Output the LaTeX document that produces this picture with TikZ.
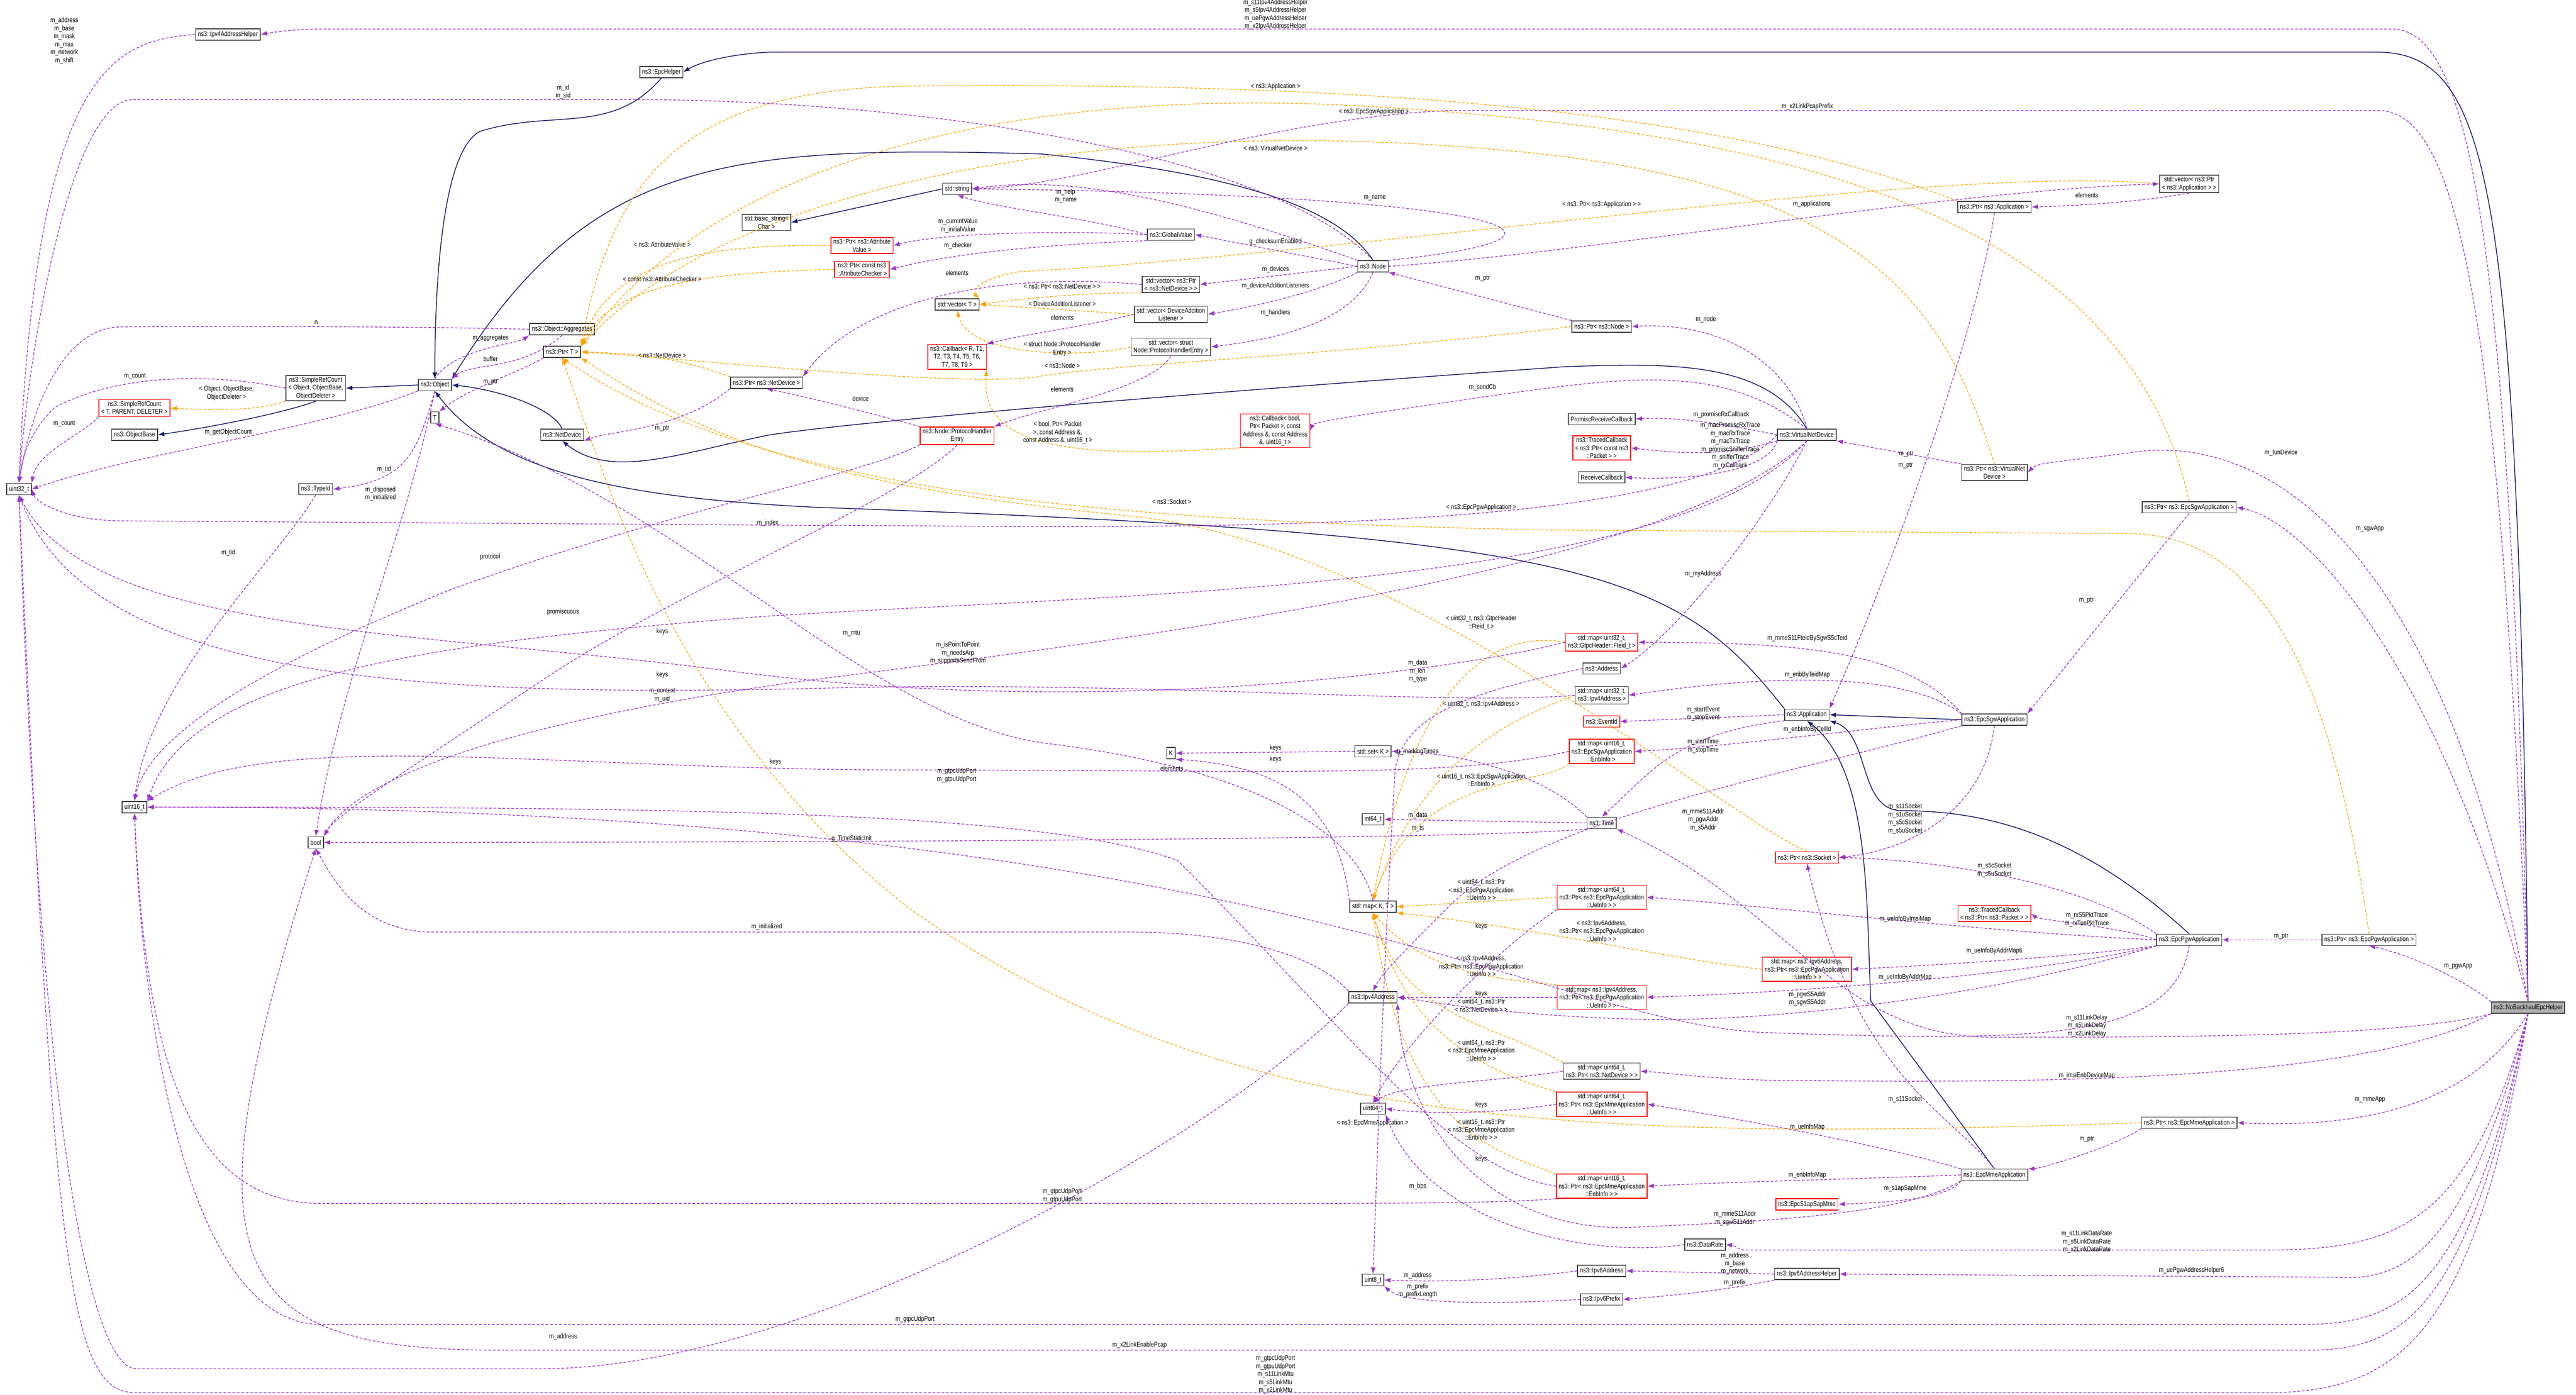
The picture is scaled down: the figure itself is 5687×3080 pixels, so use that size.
\documentclass[tikz,border=0pt]{standalone}
\usepackage{fontspec}
\setmainfont{Liberation Sans}[FakeStretch=0.82]
\usetikzlibrary{arrows.meta}
\definecolor{mem}{HTML}{9A32CD}
\definecolor{inh}{HTML}{191970}
\definecolor{tpl}{HTML}{FFA500}
\begin{document}
\begin{tikzpicture}[x=0.01cm,y=-0.01cm,
 every node/.style={font=\fontsize{4.3}{5}\selectfont},
 cls/.style={draw=black!75,fill=white,line width=0.5pt,align=center,inner xsep=1.5pt,inner ysep=1pt,minimum height=0.25cm},
 rcls/.style={cls,draw=red},
 lbl/.style={align=center,inner sep=0pt},
 mem/.style={draw=mem,dash pattern=on 1.7pt off 1.1pt,line width=0.45pt,-{Latex[length=4pt,width=3pt]}},
 inh/.style={draw=inh,line width=0.5pt,-{Latex[length=4pt,width=3pt]}},
 tpl/.style={draw=tpl,dash pattern=on 1.7pt off 1.1pt,line width=0.45pt,-{Latex[length=4pt,width=3pt]}}]
\useasboundingbox (0,0) rectangle (5687,3080);
% nodes
\node[cls,fill=black!30] (helper) at (5581,2225) {ns3::NoBackhaulEpcHelper};
\node[cls] (ipv4h) at (503,76) {ns3::Ipv4AddressHelper};
\node[cls] (epch) at (1460,159) {ns3::EpcHelper};
\node[cls] (u32) at (42,1080) {uint32\_t};
\node[cls] (obase) at (297,960) {ns3::ObjectBase};
\node[rcls] (srcT) at (297,901) {ns3::SimpleRefCount\\< T, PARENT, DELETER >};
\node[cls] (srcO) at (697,857) {ns3::SimpleRefCount\\< Object, ObjectBase,\\ ObjectDeleter >};
\node[cls] (obj) at (960,850) {ns3::Object};
\node[cls] (aggr) at (1241,727) {ns3::Object::Aggregates};
\node[cls] (ptrT) at (1241,777) {ns3::Ptr< T >};
\node[cls] (T) at (960,922) {T};
\node[cls] (netdev) at (1241,960) {ns3::NetDevice};
\node[cls] (typeid) at (697,1080) {ns3::TypeId};
\node[cls] (bstr) at (1692,491) {std::basic\_string<\\ Char >};
\node[cls] (ptrnd) at (1692,845) {ns3::Ptr< ns3::NetDevice >};
\node[rcls] (ptrav) at (1903,542) {ns3::Ptr< ns3::Attribute\\Value >};
\node[rcls] (ptrac) at (1903,595) {ns3::Ptr< const ns3\\::AttributeChecker >};
\node[cls] (str) at (2113,417) {std::string};
\node[cls] (gv) at (2585,518) {ns3::GlobalValue};
\node[cls] (node) at (3031,588) {ns3::Node};
\node[cls] (vpnd) at (2585,628) {std::vector< ns3::Ptr\\< ns3::NetDevice > >};
\node[cls] (vT) at (2113,672) {std::vector< T >};
\node[cls] (vdal) at (2585,694) {std::vector< DeviceAddition\\Listener >};
\node[rcls] (cbR) at (2113,788) {ns3::Callback< R, T1,\\ T2, T3, T4, T5, T6,\\ T7, T8, T9 >};
\node[cls] (vphe) at (2585,766) {std::vector< struct\\ Node::ProtocolHandlerEntry >};
\node[cls] (ptrnode) at (3536,721) {ns3::Ptr< ns3::Node >};
\node[rcls] (phe) at (2113,962) {ns3::Node::ProtocolHandler\\Entry};
\node[rcls] (cbB) at (2815,951) {ns3::Callback< bool,\\ Ptr< Packet >, const\\ Address \&, const Address\\ \&, uint16\_t >};
\node[cls] (prc) at (3536,925) {PromiscReceiveCallback};
\node[rcls] (tcb) at (3536,989) {ns3::TracedCallback\\< ns3::Ptr< const ns3\\::Packet > >};
\node[cls] (rcb) at (3536,1054) {ReceiveCallback};
\node[cls] (vpapp) at (4833,406) {std::vector< ns3::Ptr\\< ns3::Application > >};
\node[cls] (ptrapp) at (4403,457) {ns3::Ptr< ns3::Application >};
\node[cls] (vnd) at (3989,960) {ns3::VirtualNetDevice};
\node[cls] (ptrvnd) at (4403,1043) {ns3::Ptr< ns3::VirtualNet\\Device >};
\node[cls] (u16) at (297,1782) {uint16\_t};
\node[cls] (bool) at (697,1860) {bool};
\node[rcls] (mFteid) at (3536,1418) {std::map< uint32\_t,\\ ns3::GtpcHeader::Fteid\_t >};
\node[cls] (addr) at (3536,1476) {ns3::Address};
\node[cls] (mIpv4) at (3536,1535) {std::map< uint32\_t,\\ ns3::Ipv4Address >};
\node[rcls] (evid) at (3536,1593) {ns3::EventId};
\node[rcls] (mEnb) at (3536,1659) {std::map< uint16\_t,\\ ns3::EpcSgwApplication\\::EnbInfo >};
\node[cls] (setK) at (3031,1659) {std::set< K >};
\node[cls] (K) at (2585,1663) {K};
\node[cls] (i64) at (3031,1809) {int64\_t};
\node[cls] (time) at (3536,1817) {ns3::Time};
\node[cls] (mapKT) at (3031,2002) {std::map< K, T >};
\node[rcls] (mPgw64) at (3536,1981) {std::map< uint64\_t,\\ ns3::Ptr< ns3::EpcPgwApplication\\::UeInfo > >};
\node[cls] (ptrsgw) at (4833,1120) {ns3::Ptr< ns3::EpcSgwApplication >};
\node[cls] (app) at (3989,1578) {ns3::Application};
\node[cls] (sgw) at (4403,1589) {ns3::EpcSgwApplication};
\node[rcls] (ptrsock) at (3989,1893) {ns3::Ptr< ns3::Socket >};
\node[rcls] (tcbp) at (4403,2017) {ns3::TracedCallback\\< ns3::Ptr< ns3::Packet > >};
\node[cls] (pgw) at (4833,2075) {ns3::EpcPgwApplication};
\node[cls] (ptrpgw) at (5230,2075) {ns3::Ptr< ns3::EpcPgwApplication >};
\node[cls] (ipv4) at (3031,2202) {ns3::Ipv4Address};
\node[rcls] (mPgw4) at (3536,2202) {std::map< ns3::Ipv4Address,\\ ns3::Ptr< ns3::EpcPgwApplication\\::UeInfo > >};
\node[cls] (mNd) at (3536,2365) {std::map< uint64\_t,\\ ns3::Ptr< ns3::NetDevice > >};
\node[cls] (u64) at (3031,2448) {uint64\_t};
\node[rcls] (mMmeUe) at (3536,2438) {std::map< uint64\_t,\\ ns3::Ptr< ns3::EpcMmeApplication\\::UeInfo > >};
\node[rcls] (mMmeEnb) at (3536,2619) {std::map< uint16\_t,\\ ns3::Ptr< ns3::EpcMmeApplication\\::EnbInfo > >};
\node[cls] (dr) at (3764,2748) {ns3::DataRate};
\node[cls] (ipv6) at (3536,2806) {ns3::Ipv6Address};
\node[cls] (u8) at (3031,2826) {uint8\_t};
\node[cls] (ipv6p) at (3536,2869) {ns3::Ipv6Prefix};
\node[rcls] (mPgw6) at (3989,2140) {std::map< ns3::Ipv6Address,\\ ns3::Ptr< ns3::EpcPgwApplication\\::UeInfo > >};
\node[cls] (ptrmme) at (4833,2479) {ns3::Ptr< ns3::EpcMmeApplication >};
\node[cls] (mme) at (4403,2594) {ns3::EpcMmeApplication};
\node[rcls] (s1ap) at (3989,2659) {ns3::EpcS1apSapMme};
\node[cls] (ipv6h) at (3989,2813) {ns3::Ipv6AddressHelper};
% inheritance
\draw[inh] (helper.north) .. controls (5560,400) and (5500,115) .. (5245,115) -- (1700,115) .. controls (1600,120) and (1540,140) .. (epch.east);
\draw[inh] (epch.south) .. controls (1350,300) and (1220,240) .. (1060,290) .. controls (980,330) and (960,600) .. (obj.north);
\draw[inh] (node.north) .. controls (2950,450) and (2700,380) .. (2300,340) .. controls (1600,320) and (1300,350) .. (obj.north east);
\draw[inh] (str.west) -- (bstr.east);
\draw[inh] (obj.west) -- (srcO.east);
\draw[inh] (srcO.south) .. controls (600,920) and (420,950) .. (obase.east);
\draw[inh] (netdev.north) .. controls (1220,900) and (1100,860) .. (obj.east);
\draw[inh] (vnd.north) .. controls (3900,800) and (3700,800) .. (3450,810) .. controls (2600,870) and (1900,930) .. (1700,960) .. controls (1500,1000) and (1350,1060) .. (netdev.south);
\draw[inh] (app.north west) .. controls (3700,1260) and (3500,1180) .. (1800,1120) .. controls (1400,1100) and (1100,1050) .. (obj.south);
\draw[inh] (sgw.west) -- (app.east);
\draw[inh] (pgw.north) .. controls (4600,1850) and (4400,1790) .. (4200,1790) .. controls (4100,1790) and (4130,1620) .. (app.south east);
\draw[inh] (mme.north) -- (4130,2210) .. controls (4120,2000) and (4130,1700) .. (app.south);
% template instantiations
\draw[tpl] (srcO.south west) .. controls (560,910) and (450,905) .. (srcT.east);
\node[lbl] (t0) at (500,868) {< Object, ObjectBase,\\ ObjectDeleter >};
\draw[tpl] (ptrav.west) .. controls (1600,540) and (1350,560) .. (ptrT.north east);
\node[lbl] (t1) at (1462,540) {< ns3::AttributeValue >};
\draw[tpl] (ptrac.west) .. controls (1600,600) and (1350,620) .. (ptrT.north east);
\node[lbl] (t2) at (1462,616) {< const ns3::AttributeChecker >};
\draw[tpl] (ptrnd.north west) .. controls (1500,790) and (1400,780) .. (ptrT.east);
\node[lbl] (t3) at (1462,784) {< ns3::NetDevice >};
\draw[tpl] (ptrnode.west) .. controls (2900,790) and (2500,800) .. (2300,830) .. controls (2150,860) and (1500,790) .. (ptrT.east);
\node[lbl] (t4) at (2345,807) {< ns3::Node >};
\draw[tpl] (ptrapp.north west) .. controls (3800,240) and (3000,180) .. (2000,190) .. controls (1500,200) and (1350,400) .. (ptrT.north east);
\node[lbl] (t5) at (2816,191) {< ns3::Application >};
\draw[tpl] (ptrsgw.north) .. controls (4700,500) and (4000,300) .. (3100,240) .. controls (2300,180) and (1600,330) .. (ptrT.north east);
\node[lbl] (t6) at (3033,247) {< ns3::EpcSgwApplication >};
\draw[tpl] (ptrvnd.north) .. controls (4300,700) and (4150,400) .. (3300,330) .. controls (2400,250) and (1600,420) .. (ptrT.north east);
\node[lbl] (t7) at (2816,327) {< ns3::VirtualNetDevice >};
\draw[tpl] (ptrsock.north) .. controls (3800,1800) and (3100,1200) .. (2500,1140) .. controls (1900,1080) and (1600,1000) .. (ptrT.south east);
\node[lbl] (t8) at (2587,1108) {< ns3::Socket >};
\draw[tpl] (ptrpgw.north) .. controls (5150,1500) and (5000,1180) .. (4700,1178) -- (3400,1170) .. controls (2500,1150) and (1700,1100) .. (ptrT.south);
\node[lbl] (t9) at (3270,1120) {< ns3::EpcPgwApplication >};
\draw[tpl] (ptrmme.west) .. controls (3500,2520) and (2700,2500) .. (2000,2000) .. controls (1500,1600) and (1350,1100) .. (ptrT.south);
\node[lbl] (t10) at (3030,2480) {< ns3::EpcMmeApplication >};
\draw[tpl] (vpnd.south west) .. controls (2400,645) and (2250,660) .. (vT.east);
\node[lbl] (t11) at (2345,632) {< ns3::Ptr< ns3::NetDevice > >};
\draw[tpl] (vdal.west) -- (vT.east);
\node[lbl] (t12) at (2345,671) {< DeviceAdditionListener >};
\draw[tpl] (vphe.west) .. controls (2400,790) and (2140,790) .. (vT.south);
\node[lbl] (t13) at (2345,770) {< struct Node::ProtocolHandler\\Entry >};
\draw[tpl] (vpapp.west) .. controls (4300,360) and (3000,560) .. (2250,600) .. controls (2180,610) and (2140,640) .. (vT.north east);
\node[lbl] (t14) at (3536,452) {< ns3::Ptr< ns3::Application > >};
\draw[tpl] (cbB.south west) .. controls (2400,1010) and (2160,1000) .. (cbR.south east);
\node[lbl] (t15) at (2335,955) {< bool, Ptr< Packet\\ >, const Address \&,\\ const Address \&, uint16\_t >};
\draw[tpl] (mFteid.west) .. controls (3300,1390) and (3120,1500) .. (mapKT.north);
\node[lbl] (t16) at (3270,1375) {< uint32\_t, ns3::GtpcHeader\\::Fteid\_t >};
\draw[tpl] (mIpv4.west) .. controls (3300,1600) and (3130,1700) .. (mapKT.north);
\node[lbl] (t17) at (3270,1555) {< uint32\_t, ns3::Ipv4Address >};
\draw[tpl] (mEnb.south west) .. controls (3400,1740) and (3130,1700) .. (mapKT.north);
\node[lbl] (t18) at (3270,1722) {< uint16\_t, ns3::EpcSgwApplication\\::EnbInfo >};
\draw[tpl] (mPgw64.west) -- (mapKT.east);
\node[lbl] (t19) at (3270,1965) {< uint64\_t, ns3::Ptr\\< ns3::EpcPgwApplication\\::UeInfo > >};
\draw[tpl] (mPgw6.west) .. controls (3700,2120) and (3400,2050) .. (mapKT.south east);
\node[lbl] (t20) at (3536,2055) {< ns3::Ipv6Address,\\ ns3::Ptr< ns3::EpcPgwApplication\\::UeInfo > >};
\draw[tpl] (mPgw4.north west) .. controls (3300,2160) and (3150,2150) .. (mapKT.south);
\node[lbl] (t21) at (3270,2133) {< ns3::Ipv4Address,\\ ns3::Ptr< ns3::EpcPgwApplication\\::UeInfo > >};
\draw[tpl] (mNd.north west) .. controls (3300,2260) and (3100,2250) .. (mapKT.south);
\node[lbl] (t22) at (3270,2220) {< uint64\_t, ns3::Ptr\\< ns3::NetDevice > >};
\draw[tpl] (mMmeUe.north west) .. controls (3300,2370) and (3110,2300) .. (mapKT.south);
\node[lbl] (t23) at (3270,2319) {< uint64\_t, ns3::Ptr\\< ns3::EpcMmeApplication\\::UeInfo > >};
\draw[tpl] (mMmeEnb.north west) .. controls (3300,2540) and (3100,2500) .. (mapKT.south);
\node[lbl] (t24) at (3270,2494) {< uint16\_t, ns3::Ptr\\< ns3::EpcMmeApplication\\::EnbInfo > >};
% members
\draw[mem] (helper.north) .. controls (5540,500) and (5450,64) .. (5280,64) -- (700,64) .. controls (650,65) and (610,70) .. (ipv4h.east);
\node[lbl] (m1) at (2816,32) {m\_s11Ipv4AddressHelper\\m\_s5Ipv4AddressHelper\\m\_uePgwAddressHelper\\m\_x2Ipv4AddressHelper};
\draw[mem] (ipv4h.west) .. controls (250,90) and (80,150) .. (u32.north);
\node[lbl] (m2) at (142,90) {m\_address\\m\_base\\m\_mask\\m\_max\\m\_network\\m\_shift};
\draw[mem] (helper.north) .. controls (5520,700) and (5430,244) .. (5250,244) -- (3200,244) .. controls (2800,260) and (2400,410) .. (str.east);
\node[lbl] (m3) at (3990,236) {m\_x2LinkPcapPrefix};
\draw[mem] (node.north) .. controls (2800,330) and (2000,220) .. (1400,220) -- (290,220) .. controls (150,230) and (60,800) .. (u32.north);
\node[lbl] (m4) at (1243,203) {m\_id\\m\_sid};
\draw[mem] (node.north west) .. controls (2700,470) and (2400,380) .. (str.east);
\draw[mem] (node.north east) .. controls (3600,520) and (3300,430) .. (str.east);
\node[lbl] (m5) at (3035,437) {m\_name};
\draw[mem] (gv.west) .. controls (2400,480) and (2200,460) .. (str.south);
\node[lbl] (m6) at (2353,433) {m\_help\\m\_name};
\draw[mem] (gv.west) .. controls (2400,510) and (2100,510) .. (ptrav.east);
\node[lbl] (m7) at (2115,498) {m\_currentValue\\m\_initialValue};
\draw[mem] (gv.south west) .. controls (2300,540) and (2100,560) .. (ptrac.east);
\node[lbl] (m8) at (2115,542) {m\_checker};
\draw[mem] (node.west) -- (gv.east);
\node[lbl] (m9) at (2816,534) {g\_checksumEnabled};
\draw[mem] (node.west) -- (vpnd.east);
\node[lbl] (m10) at (2816,595) {m\_devices};
\draw[mem] (node.south west) .. controls (2900,650) and (2750,680) .. (vdal.east);
\node[lbl] (m11) at (2816,631) {m\_deviceAdditionListeners};
\draw[mem] (node.south) .. controls (2980,720) and (2800,750) .. (vphe.east);
\node[lbl] (m12) at (2816,690) {m\_handlers};
\draw[mem] (ptrnode.north west) -- (node.south east);
\node[lbl] (m13) at (3273,615) {m\_ptr};
\draw[mem] (vpnd.west) .. controls (2200,600) and (1900,660) .. (ptrnd.north east);
\node[lbl] (m14) at (2113,602) {elements};
\draw[mem] (vdal.west) .. controls (2400,720) and (2250,740) .. (cbR.north east);
\node[lbl] (m15) at (2345,702) {elements};
\draw[mem] (vphe.south) .. controls (2540,860) and (2300,900) .. (phe.north east);
\node[lbl] (m16) at (2345,860) {elements};
\draw[mem] (phe.north west) .. controls (1950,920) and (1800,880) .. (ptrnd.south);
\node[lbl] (m17) at (1900,880) {device};
\draw[mem] (phe.south west) .. controls (1900,1050) and (1500,1120) .. (1000,1300) .. controls (500,1500) and (320,1650) .. (u16.north);
\node[lbl] (m18) at (1082,1229) {protocol};
\draw[mem] (phe.south) .. controls (2000,1100) and (1500,1300) .. (1200,1500) .. controls (900,1700) and (740,1800) .. (bool.north east);
\node[lbl] (m19) at (1243,1351) {promiscuous};
\draw[mem] (ptrnd.south west) .. controls (1500,950) and (1350,950) .. (netdev.south east);
\node[lbl] (m20) at (1462,946) {m\_ptr};
\draw[mem] (ptrT.south west) .. controls (1150,820) and (1030,860) .. (T.north east);
\node[lbl] (m21) at (1083,843) {m\_ptr};
\draw[mem] (obj.north) .. controls (1000,770) and (1140,760) .. (aggr.south west);
\node[lbl] (m22) at (1083,747) {m\_aggregates};
\draw[mem] (aggr.south) .. controls (1150,820) and (1040,800) .. (obj.north east);
\node[lbl] (m23) at (1083,793) {buffer};
\draw[mem] (aggr.west) .. controls (900,720) and (400,720) .. (260,722) .. controls (120,730) and (60,950) .. (u32.north);
\node[lbl] (m24) at (698,712) {n};
\draw[mem] (srcO.west) .. controls (450,820) and (250,830) .. (120,900) .. controls (70,950) and (50,1000) .. (u32.north);
\node[lbl] (m25) at (298,831) {m\_count};
\draw[mem] (srcT.south west) .. controls (180,960) and (80,1000) .. (u32.north east);
\node[lbl] (m26) at (142,936) {m\_count};
\draw[mem] (obj.south west) .. controls (700,950) and (300,1000) .. (u32.east);
\node[lbl] (m27) at (504,954) {m\_getObjectCount};
\draw[mem] (obj.south) .. controls (920,1000) and (900,1060) .. (typeid.east);
\node[lbl] (m28) at (848,1036) {m\_tid};
\draw[mem] (obj.south) .. controls (890,1200) and (750,1500) .. (bool.north);
\node[lbl] (m29) at (840,1090) {m\_disposed\\m\_initialized};
\draw[mem] (typeid.south) .. controls (600,1250) and (330,1500) .. (u16.north);
\node[lbl] (m30) at (504,1220) {m\_tid};
\draw[mem] (vnd.north) .. controls (3800,800) and (3600,830) .. (3250,880) .. controls (3050,910) and (2900,930) .. (cbB.east);
\node[lbl] (m31) at (3273,855) {m\_sendCb};
\draw[mem] (vnd.west) .. controls (3800,935) and (3700,920) .. (prc.east);
\node[lbl] (m32) at (3800,916) {m\_promiscRxCallback};
\draw[mem] (vnd.south west) .. controls (3800,1010) and (3700,1000) .. (tcb.east);
\node[lbl] (m33) at (3820,975) {m\_macPromiscRxTrace\\m\_macRxTrace\\m\_macTxTrace\\m\_promiscSnifferTrace\\m\_snifferTrace};
\draw[mem] (vnd.south west) .. controls (3900,1050) and (3700,1060) .. (rcb.east);
\node[lbl] (m34) at (3820,1028) {m\_rxCallback};
\draw[mem] (vnd.north) .. controls (3950,800) and (3800,710) .. (ptrnode.east);
\node[lbl] (m35) at (3766,705) {m\_node};
\draw[mem] (vnd.south) .. controls (3900,1150) and (3700,1400) .. (addr.east);
\node[lbl] (m36) at (3760,1267) {m\_myAddress};
\draw[mem] (vnd.south) .. controls (3700,1300) and (2500,1310) .. (1700,1360) .. controls (900,1420) and (420,1500) .. (u16.north east);
\node[lbl] (m37) at (1880,1398) {m\_mtu};
\draw[mem] (vnd.south) .. controls (3700,1250) and (2600,1400) .. (1800,1500) .. controls (1200,1580) and (800,1700) .. (bool.north east);
\node[lbl] (m38) at (2115,1442) {m\_isPointToPoint\\m\_needsArp\\m\_supportsSendFrom};
\draw[mem] (vnd.west) .. controls (3700,1200) and (2400,1160) .. (1800,1160) -- (270,1150) .. controls (150,1150) and (80,1110) .. (u32.east);
\node[lbl] (m39) at (1695,1155) {m\_index};
\draw[mem] (ptrvnd.north west) -- (vnd.south east);
\node[lbl] (m40) at (4208,1003) {m\_ptr};
\draw[mem] (helper.north) .. controls (5400,1200) and (5000,950) .. (4700,1000) .. controls (4550,1020) and (4500,1020) .. (ptrvnd.east);
\node[lbl] (m41) at (5036,1000) {m\_tunDevice};
\draw[mem] (vpapp.south) .. controls (4700,450) and (4550,455) .. (ptrapp.east);
\node[lbl] (m42) at (4607,431) {elements};
\draw[mem] (node.east) .. controls (3500,560) and (4300,420) .. (vpapp.west);
\node[lbl] (m43) at (4000,451) {m\_applications};
\draw[mem] (ptrapp.south) .. controls (4370,700) and (4200,1200) .. (app.north east);
\node[lbl] (m44) at (4207,1028) {m\_ptr};
\draw[mem] (helper.north) .. controls (5400,1500) and (5100,1150) .. (ptrsgw.east);
\node[lbl] (m45) at (5232,1167) {m\_sgwApp};
\draw[mem] (ptrsgw.south) -- (sgw.north east);
\node[lbl] (m46) at (4606,1326) {m\_ptr};
\draw[mem] (sgw.north west) .. controls (4200,1420) and (3900,1420) .. (mFteid.east);
\node[lbl] (m47) at (3990,1409) {m\_mmeS11FteidBySgwS5cTeid};
\draw[mem] (sgw.north west) .. controls (4200,1480) and (3900,1490) .. (mIpv4.east);
\node[lbl] (m48) at (3990,1490) {m\_enbByTeidMap};
\draw[mem] (app.west) -- (evid.east);
\node[lbl] (m49) at (3760,1576) {m\_startEvent\\m\_stopEvent};
\draw[mem] (app.south west) .. controls (3700,1620) and (3650,1700) .. (time.north);
\node[lbl] (m50) at (3760,1647) {m\_startTime\\m\_stopTime};
\draw[mem] (sgw.west) .. controls (4100,1610) and (3800,1650) .. (mEnb.east);
\node[lbl] (m51) at (3990,1611) {m\_enbInfoByCellId};
\draw[mem] (sgw.south west) .. controls (4000,1700) and (3400,1800) .. (3200,2000) .. controls (3100,2100) and (3050,2150) .. (ipv4.north);
\node[lbl] (m52) at (3760,1810) {m\_mmeS11Addr\\m\_pgwAddr\\m\_s5Addr};
\draw[mem] (sgw.south) .. controls (4380,1800) and (4200,1880) .. (ptrsock.east);
\node[lbl] (m53) at (4206,1808) {m\_s11Socket\\m\_s1uSocket\\m\_s5cSocket\\m\_s5uSocket};
\draw[mem] (time.west) -- (i64.east);
\node[lbl] (m54) at (3130,1800) {m\_data};
\draw[mem] (time.south west) .. controls (3300,1850) and (2200,1860) .. (bool.east);
\node[lbl] (m55) at (1880,1852) {g\_TimeStaticInit};
\node[lbl] (m55b) at (3130,1830) {m\_ts};
\draw[mem] (time.north west) .. controls (3400,1700) and (3200,1660) .. (setK.east);
\node[lbl] (m56) at (3130,1659) {g\_markingTimes};
\draw[mem] (setK.west) -- (K.east);
\node[lbl] (m57) at (2816,1651) {keys};
\draw[mem] (mapKT.north west) .. controls (2950,1750) and (2800,1690) .. (K.south east);
\node[lbl] (m58) at (2816,1676) {keys};
\draw[mem] (mapKT.north) .. controls (3000,1850) and (2800,1700) .. (2300,1640) .. controls (1900,1580) and (1500,1100) .. (T.south);
\node[lbl] (m59) at (2587,1697) {elements};
\draw[mem] (addr.west) .. controls (3300,1520) and (3100,1560) .. (3080,1700) .. controls (3050,2200) and (3040,2600) .. (u8.north);
\node[lbl] (m60) at (3130,1482) {m\_data\\m\_len\\m\_type};
\draw[mem] (pgw.north west) .. controls (4600,1950) and (4300,1900) .. (ptrsock.east);
\node[lbl] (m61) at (4403,1921) {m\_s5cSocket\\m\_s5uSocket};
\draw[mem] (pgw.west) .. controls (4700,2050) and (4500,2030) .. (tcbp.east);
\node[lbl] (m62) at (4607,2030) {m\_rxS5PktTrace\\m\_rxTunPktTrace};
\draw[mem] (pgw.west) .. controls (4400,2060) and (3900,2000) .. (mPgw64.east);
\node[lbl] (m63) at (4206,2029) {m\_ueInfoByImsiMap};
\draw[mem] (ptrpgw.west) -- (pgw.east);
\node[lbl] (m64) at (5036,2067) {m\_ptr};
\draw[mem] (helper.north west) .. controls (5450,2170) and (5330,2110) .. (ptrpgw.south);
\node[lbl] (m65) at (5427,2133) {m\_pgwApp};
\draw[mem] (pgw.south west) .. controls (4600,2110) and (4300,2130) .. (mPgw6.east);
\node[lbl] (m66) at (4403,2100) {m\_ueInfoByAddrMap6};
\draw[mem] (pgw.south west) .. controls (4500,2150) and (4000,2190) .. (mPgw4.east);
\node[lbl] (m67) at (4206,2158) {m\_ueInfoByAddrMap};
\draw[mem] (pgw.south west) .. controls (4400,2200) and (3900,2260) .. (3600,2250) .. controls (3300,2240) and (3150,2210) .. (ipv4.east);
\node[lbl] (m68) at (3990,2205) {m\_pgwS5Addr\\m\_sgwS5Addr};
\draw[mem] (helper.south west) .. controls (5300,2290) and (4800,2290) .. (4400,2290) .. controls (4050,2290) and (3950,2000) .. (time.south east);
\node[lbl] (m69) at (4607,2265) {m\_s11LinkDelay\\m\_s5LinkDelay\\m\_x2LinkDelay};
\draw[mem] (helper.south west) .. controls (5200,2400) and (4400,2390) .. (3900,2385) .. controls (3750,2380) and (3700,2370) .. (mNd.east);
\node[lbl] (m70) at (4607,2375) {m\_imsiEnbDeviceMap};
\draw[mem] (helper.south) .. controls (5450,2450) and (5200,2490) .. (ptrmme.east);
\node[lbl] (m71) at (5232,2427) {m\_mmeApp};
\draw[mem] (ptrmme.south west) .. controls (4650,2540) and (4500,2580) .. (mme.north east);
\node[lbl] (m72) at (4607,2515) {m\_ptr};
\draw[mem] (mme.north west) .. controls (4200,2540) and (3900,2480) .. (mMmeUe.east);
\node[lbl] (m73) at (3990,2489) {m\_ueInfoMap};
\draw[mem] (mme.north) .. controls (4300,2450) and (4100,2380) .. (ptrsock.south);
\node[lbl] (m74) at (4206,2427) {m\_s11Socket};
\draw[mem] (mme.west) .. controls (4200,2600) and (3800,2610) .. (mMmeEnb.east);
\node[lbl] (m75) at (3990,2594) {m\_enbInfoMap};
\draw[mem] (mme.south west) .. controls (4300,2650) and (4150,2655) .. (s1ap.east);
\node[lbl] (m76) at (4206,2624) {m\_s1apSapMme};
\draw[mem] (mme.south west) .. controls (4200,2690) and (3800,2700) .. (3600,2710) .. controls (3300,2720) and (3100,2500) .. (ipv4.south east);
\node[lbl] (m77) at (3830,2690) {m\_mmeS11Addr\\m\_sgwS11Addr};
\draw[mem] (helper.south) .. controls (5450,2700) and (5300,2760) .. (5000,2760) -- (3850,2760) .. controls (3830,2755) and (3830,2750) .. (dr.east);
\node[lbl] (m78) at (4607,2742) {m\_s11LinkDataRate\\m\_s5LinkDataRate\\m\_x2LinkDataRate};
\draw[mem] (helper.south) .. controls (5440,2780) and (5300,2830) .. (5150,2820) -- (ipv6h.east);
\node[lbl] (m79) at (4838,2805) {m\_uePgwAddressHelper6};
\draw[mem] (ipv6h.west) -- (ipv6.east);
\node[lbl] (m80) at (3830,2790) {m\_address\\m\_base\\m\_network};
\draw[mem] (ipv6h.south west) .. controls (3800,2850) and (3700,2860) .. (ipv6p.east);
\node[lbl] (m81) at (3830,2832) {m\_prefix};
\draw[mem] (ipv6.west) .. controls (3300,2830) and (3150,2830) .. (u8.east);
\node[lbl] (m82) at (3130,2816) {m\_address};
\draw[mem] (ipv6p.west) .. controls (3300,2880) and (3100,2880) .. (u8.south east);
\node[lbl] (m83) at (3130,2850) {m\_prefix\\m\_prefixLength};
\draw[mem] (dr.west) .. controls (3500,2780) and (3150,2700) .. (u64.south east);
\node[lbl] (m84) at (3130,2620) {m\_bps};
\draw[mem] (helper.south) .. controls (5450,2850) and (5300,2920) .. (5100,2924) -- (700,2924) .. controls (400,2910) and (310,2200) .. (u16.south);
\node[lbl] (m85) at (2020,2913) {m\_gtpcUdpPort};
\draw[mem] (helper.south) .. controls (5450,2900) and (5300,2980) .. (5100,2981) -- (1100,2981) .. controls (500,2981) and (400,2800) .. (bool.south);
\node[lbl] (m86) at (2516,2970) {m\_x2LinkEnablePcap};
\draw[mem] (helper.south) .. controls (5460,2950) and (5300,3075) .. (5000,3075) -- (300,3075) .. controls (150,3075) and (120,2800) .. (u32.south);
\node[lbl] (m87) at (2816,3035) {m\_gtpcUdpPort\\m\_gtpuUdpPort\\m\_s11LinkMtu\\m\_s5LinkMtu\\m\_x2LinkMtu};
\draw[mem] (ipv4.south west) .. controls (2700,2500) and (1800,3020) .. (1200,3022) -- (300,3022) .. controls (200,3020) and (90,2500) .. (u32.south);
\node[lbl] (m88) at (1243,2951) {m\_address};
\draw[mem] (ipv4.north west) .. controls (2900,2100) and (2700,2058) .. (2500,2058) -- (960,2058) .. controls (800,2058) and (740,1950) .. (bool.south);
\node[lbl] (m89) at (1693,2046) {m\_initialized};
\draw[mem] (mMmeEnb.south west) .. controls (3300,2660) and (2800,2657) .. (2400,2657) -- (700,2657) .. controls (400,2650) and (320,2300) .. (u16.south);
\node[lbl] (m90) at (2345,2640) {m\_gtpcUdpPort\\m\_gtpuUdpPort};
\draw[mem] (mPgw4.west) -- (ipv4.east);
\node[lbl] (m91) at (3270,2194) {keys};
\draw[mem] (mMmeUe.west) .. controls (3300,2460) and (3150,2460) .. (u64.east);
\node[lbl] (m92) at (3270,2440) {keys};
\draw[mem] (mNd.west) .. controls (3300,2390) and (3100,2390) .. (u64.north);
\draw[mem] (mPgw64.south west) .. controls (3300,2100) and (3100,2300) .. (u64.north);
\node[lbl] (m93) at (3270,2045) {keys};
\draw[mem] (mMmeEnb.west) .. controls (3200,2580) and (3000,2300) .. (2600,1900) .. controls (2300,1790) and (1500,1782) .. (u16.east);
\node[lbl] (m94) at (3270,2559) {keys};
\draw[mem] (mEnb.west) .. controls (3200,1720) and (2800,1700) .. (2000,1700) .. controls (1200,1700) and (600,1600) .. (u16.north east);
\node[lbl] (m95) at (1712,1682) {keys};
\draw[mem] (mFteid.west) .. controls (3300,1460) and (2500,1600) .. (1600,1480) .. controls (900,1390) and (200,1400) .. (u32.south);
\node[lbl] (m96) at (1462,1490) {keys};
\draw[mem] (mIpv4.west) .. controls (3200,1560) and (2500,1500) .. (1800,1520) .. controls (900,1540) and (200,1500) .. (u32.south);
\node[lbl] (m97) at (1462,1395) {keys};
\draw[mem] (pgw.south) .. controls (4800,2300) and (4500,2300) .. (3900,2280) .. controls (3400,2260) and (2800,1780) .. (u16.east);
\node[lbl] (m98) at (2112,1712) {m\_gtpcUdpPort\\m\_gtpuUdpPort};
\node[lbl] (m99) at (1462,1535) {m\_context\\m\_uid};
\end{tikzpicture}
\end{document}
